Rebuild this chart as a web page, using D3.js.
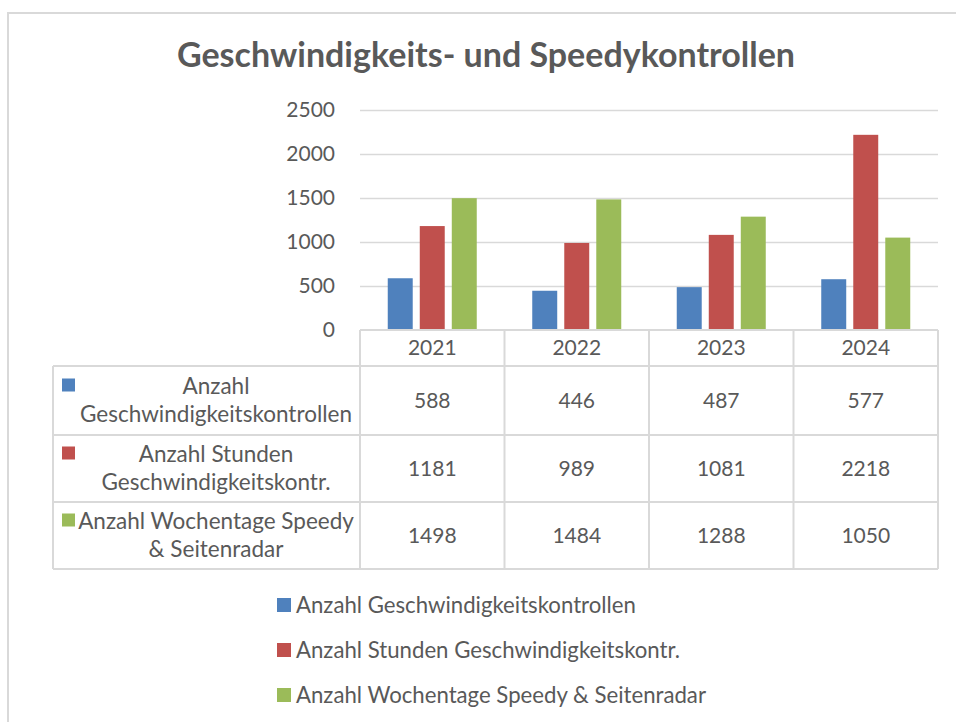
<!DOCTYPE html>
<html>
<head>
<meta charset="utf-8">
<title>Geschwindigkeits- und Speedykontrollen</title>
<style>
  body { margin: 0; background: #fff; }
  svg text { font-family: Lato, "Open Sans", sans-serif; fill: #595959; }
  .grid line { stroke: #d9d9d9; stroke-width: 1.5; }
  .tbl line { stroke: #d9d9d9; stroke-width: 2; }
</style>
</head>
<body>
<svg width="956" height="722"></svg>
<script src="https://cdn.jsdelivr.net/npm/d3@7"></script>
<script>
// data
var years = ["2021", "2022", "2023", "2024"];
var seriesNames = ["Anzahl Geschwindigkeitskontrollen", "Anzahl Stunden Geschwindigkeitskontr.", "Anzahl Wochentage Speedy & Seitenradar"];
// wrapped labels as in the data table
var tableLabels = [["Anzahl", "Geschwindigkeitskontrollen"], ["Anzahl Stunden", "Geschwindigkeitskontr."], ["Anzahl Wochentage Speedy", "& Seitenradar"]];
var kontrollen = [588, 446, 487, 577];
var stunden = [1181, 989, 1081, 2218];
var wochentage = [1498, 1484, 1288, 1050];
var yTicks = [0, 500, 1000, 1500, 2000, 2500];
var colors = ["#4f81bd", "#c0504d", "#9bbb59"];

var allSeries = [kontrollen, stunden, wochentage];

var svg = d3.select("svg");

// outer frame
svg.append("rect")
  .attr("x", 8).attr("y", 13)
  .attr("width", 1000).attr("height", 800)
  .attr("fill", "none").attr("stroke", "#d9d9d9").attr("stroke-width", 2);

// title
svg.append("text")
  .attr("x", 486).attr("y", 67)
  .attr("text-anchor", "middle")
  .style("font-size", "34px").style("font-weight", "bold")
  .text("Geschwindigkeits- und Speedykontrollen");

// scales
var x0 = d3.scaleBand().domain(years).range([360, 938]);
var y = d3.scaleLinear().domain([0, 2500]).range([330, 110]);
var c = x0.bandwidth() / 2;
var x1 = d3.scaleBand().domain([0, 1, 2]).range([c - 44.5, c + 44.5]).paddingInner(0.22);

// gridlines + y axis
var yAxis = d3.axisLeft(y).tickValues(yTicks).tickSize(-(938 - 360)).tickPadding(25).tickFormat(d3.format("d"));
var gy = svg.append("g").attr("class", "grid").attr("transform", "translate(360,0)").call(yAxis);
gy.select(".domain").remove();
gy.selectAll("text").style("font-size", "21px").attr("fill", "#595959");
gy.selectAll(".tick").filter(function(d) { return d === 0; }).select("line").remove();

// bars
var groups = svg.selectAll(".year")
  .data(years)
  .enter().append("g")
  .attr("class", "year")
  .attr("transform", function(d) { return "translate(" + x0(d) + ",0)"; });

groups.selectAll("rect")
  .data(function(d, i) { return allSeries.map(function(s, k) { return {k: k, v: s[i]}; }); })
  .enter().append("rect")
  .attr("x", function(d) { return x1(d.k); })
  .attr("y", function(d) { return y(d.v); })
  .attr("width", x1.bandwidth())
  .attr("height", function(d) { return y(0) - y(d.v); })
  .attr("fill", function(d) { return colors[d.k]; });

// data table
var rowY = [330, 366, 435, 502, 569];
var tbl = svg.append("g").attr("class", "tbl");
var tLeft = 53, tRight = 938, colX = x0.range()[0];

// horizontal lines
tbl.append("line").attr("x1", colX).attr("x2", tRight).attr("y1", rowY[0]).attr("y2", rowY[0]);
rowY.slice(1).forEach(function(r) {
  tbl.append("line").attr("x1", tLeft).attr("x2", tRight).attr("y1", r).attr("y2", r);
});
// vertical lines
tbl.append("line").attr("x1", tLeft).attr("x2", tLeft).attr("y1", rowY[1]).attr("y2", rowY[4]);
years.forEach(function(yr) {
  tbl.append("line").attr("x1", x0(yr)).attr("x2", x0(yr)).attr("y1", rowY[0]).attr("y2", rowY[4]);
});
tbl.append("line").attr("x1", tRight).attr("x2", tRight).attr("y1", rowY[0]).attr("y2", rowY[4]);

// header
tbl.selectAll(".hdr")
  .data(years)
  .enter().append("text")
  .attr("x", function(d) { return x0(d) + c; })
  .attr("y", (rowY[0] + rowY[1]) / 2)
  .attr("dy", "0.35em")
  .attr("text-anchor", "middle")
  .style("font-size", "21px")
  .text(function(d) { return d; });

// rows
allSeries.forEach(function(s, k) {
  var top = rowY[k + 1], bot = rowY[k + 2], mid = (top + bot) / 2;
  tbl.append("rect")
    .attr("x", 62).attr("y", mid - 22)
    .attr("width", 13).attr("height", 13)
    .attr("fill", colors[k]);
  tableLabels[k].forEach(function(line, j) {
    tbl.append("text")
      .attr("x", 216)
      .attr("y", mid - 14 + j * 28)
      .attr("dy", "0.35em")
      .attr("text-anchor", "middle")
      .style("font-size", "22.5px")
      .text(line);
  });
  tbl.selectAll(".v" + k)
    .data(s)
    .enter().append("text")
    .attr("x", function(d, i) { return x0(years[i]) + c; })
    .attr("y", mid)
    .attr("dy", "0.35em")
    .attr("text-anchor", "middle")
    .style("font-size", "21px")
    .text(function(d) { return d; });
});

// legend
var legend = svg.append("g").attr("transform", "translate(277,605)");
var li = legend.selectAll("g")
  .data(seriesNames)
  .enter().append("g")
  .attr("transform", function(d, i) { return "translate(0," + (i * 45) + ")"; });
li.append("rect").attr("x", 0).attr("y", -7).attr("width", 14).attr("height", 14)
  .attr("fill", function(d, i) { return colors[i]; });
li.append("text").attr("x", 19).attr("dy", "0.35em")
  .style("font-size", "22.2px")
  .text(function(d) { return d; });
</script>
</body>
</html>
